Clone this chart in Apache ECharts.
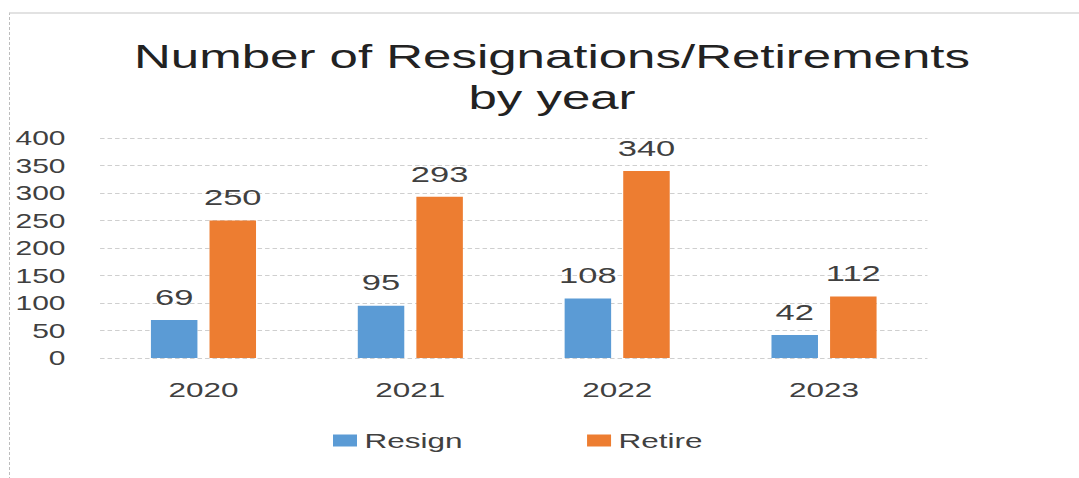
<!DOCTYPE html>
<html>
<head>
<meta charset="utf-8">
<script src="https://cdn.jsdelivr.net/npm/echarts@6/dist/echarts.min.js"></script>
<style>
    html, body {
        margin: 0;
        padding: 0;
        background: #fff;
        overflow: hidden;
    }
    .frame {
        position: absolute;
        left: 9px;
        top: 12px;
        width: 1070px;
        height: 466px;
        border-top: 2px solid #e2e2e2;
        border-left: 1px dashed #bdbdbd;
    }
    /* the source picture is stretched sideways, so the chart is drawn narrow and widened */
    #chart {
        position: absolute;
        left: 0;
        top: 0;
        width: 719.33px;
        height: 478px;
        transform: scaleX(1.5);
        transform-origin: 0 0;
    }
</style>
</head>
<body>
<div class="frame"></div>
<div id="chart"></div>
<script>
const years = ['2020', '2021', '2022', '2023'];
const resignValues = [69, 95, 108, 42];
const retireValues = [250, 293, 340, 112];
const seriesNames = ['Resign', 'Retire'];
const yTicks = { min: 0, max: 400, interval: 50 };

const textColor = '#404040';
const font = '"Liberation Sans", Arial, sans-serif';

let chart = echarts.init(document.getElementById('chart'), null, { renderer: 'svg' });

let option = {
    animation: false,
    color: ['#5B9BD5', '#ED7D31'],
    title: {
        text: 'Number of Resignations/Retirements\nby year',
        left: 368,
        textAlign: 'center',
        top: 36,
        padding: 0,
        textStyle: {
            fontFamily: font,
            fontSize: 34,
            fontWeight: 'normal',
            color: '#222',
            lineHeight: 41
        }
    },
    grid: {
        left: 66.7,
        right: 100.7,
        top: 138,
        bottom: 120,
        containLabel: false
    },
    legend: {
        data: seriesNames,
        left: 222,
        top: 430,
        padding: 0,
        itemGap: 83,
        itemWidth: 16,
        itemHeight: 12,
        icon: 'rect',
        textStyle: {
            fontFamily: font,
            fontSize: 21,
            color: textColor
        }
    },
    xAxis: {
        type: 'category',
        data: years,
        axisLine: { show: false },
        axisTick: { show: false },
        axisLabel: {
            margin: 21,
            fontFamily: font,
            fontSize: 21,
            color: textColor
        }
    },
    yAxis: {
        type: 'value',
        min: yTicks.min,
        max: yTicks.max,
        interval: yTicks.interval,
        axisLine: { show: false },
        axisTick: { show: false },
        axisLabel: {
            margin: 23,
            fontFamily: font,
            fontSize: 20,
            color: textColor
        },
        splitLine: {
            show: true,
            lineStyle: {
                type: [3, 2],
                color: '#cfcfcf',
                width: 1
            }
        }
    },
    series: [
        {
            name: seriesNames[0],
            type: 'bar',
            barWidth: 31,
            barGap: '26%',
            data: resignValues,
            label: {
                show: true,
                position: 'top',
                distance: 12,
                fontFamily: font,
                fontSize: 23,
                color: textColor
            }
        },
        {
            name: seriesNames[1],
            type: 'bar',
            barWidth: 31,
            data: retireValues,
            label: {
                show: true,
                position: 'top',
                distance: 12,
                fontFamily: font,
                fontSize: 23,
                color: textColor
            }
        }
    ]
};

chart.setOption(option);
</script>
</body>
</html>
